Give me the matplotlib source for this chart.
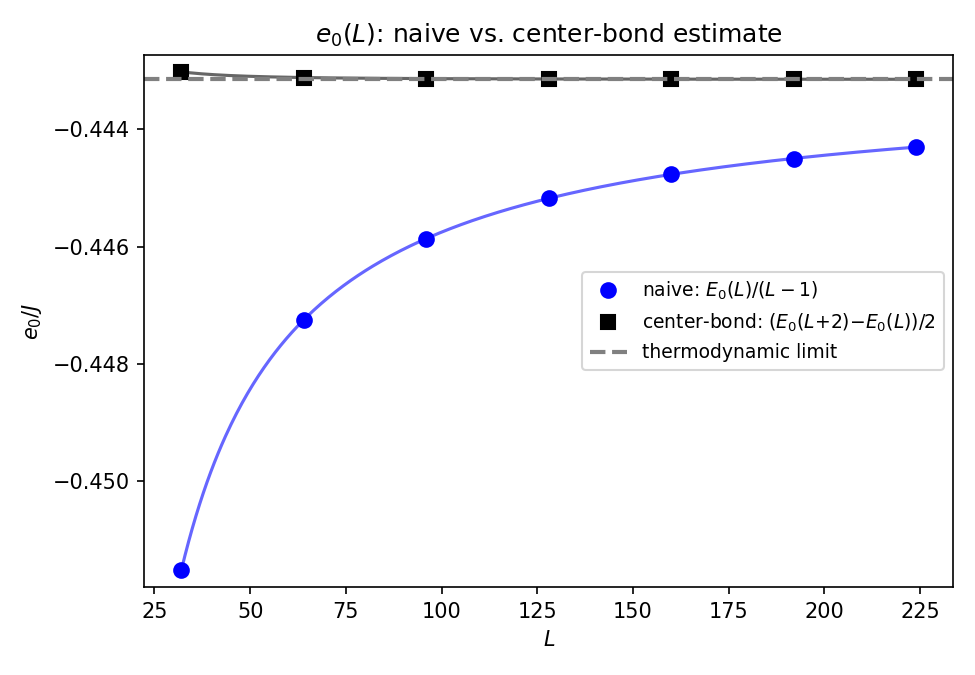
import numpy as np
import matplotlib
matplotlib.use("Agg")
import matplotlib.pyplot as plt

# system sizes and energies per site
L = [32, 64, 96, 128, 160, 192, 224]
naive = [-0.451527, -0.447245, -0.445862, -0.445178, -0.444763, -0.444512, -0.444307]
center = [-0.443016, -0.443119, -0.443140, -0.443145, -0.443146, -0.443147, -0.443147]
e_inf = 0.25 - np.log(2)

# fit coefficients for the smooth curves: e_inf + a/L + b/L^2
naive_fit = (-0.257, -0.36)
center_fit = (0.0, 0.134)

fig, ax = plt.subplots(figsize=(6.5, 4.5), dpi=150)

Lf = np.linspace(L[0], L[-1], 400)
ax.plot(Lf, e_inf + naive_fit[0] / Lf + naive_fit[1] / Lf**2, color="blue", alpha=0.6, lw=1.5)
ax.plot(Lf, e_inf + center_fit[0] / Lf + center_fit[1] / Lf**2, color="black", alpha=0.6, lw=1.5)

ax.plot(L, naive, "o", color="blue", ms=7, label=r"naive: $E_0(L)/(L-1)$")
ax.plot(L, center, "s", color="black", ms=7, label=r"center-bond: $(E_0(L{+}2){-}E_0(L))/2$")
ax.axhline(e_inf, color="gray", ls="--", lw=2, label="thermodynamic limit")

ax.set_ylim(-0.45181, -0.44273)
ax.set_xlabel(r"$L$")
ax.set_ylabel(r"$e_0/J$")
ax.set_title(r"$e_0(L)$: naive vs. center-bond estimate")
ax.legend(loc="center right", fontsize=9)

fig.subplots_adjust(left=0.1482, right=0.9774, bottom=0.1304, top=0.9185)
plt.savefig("out.png")
